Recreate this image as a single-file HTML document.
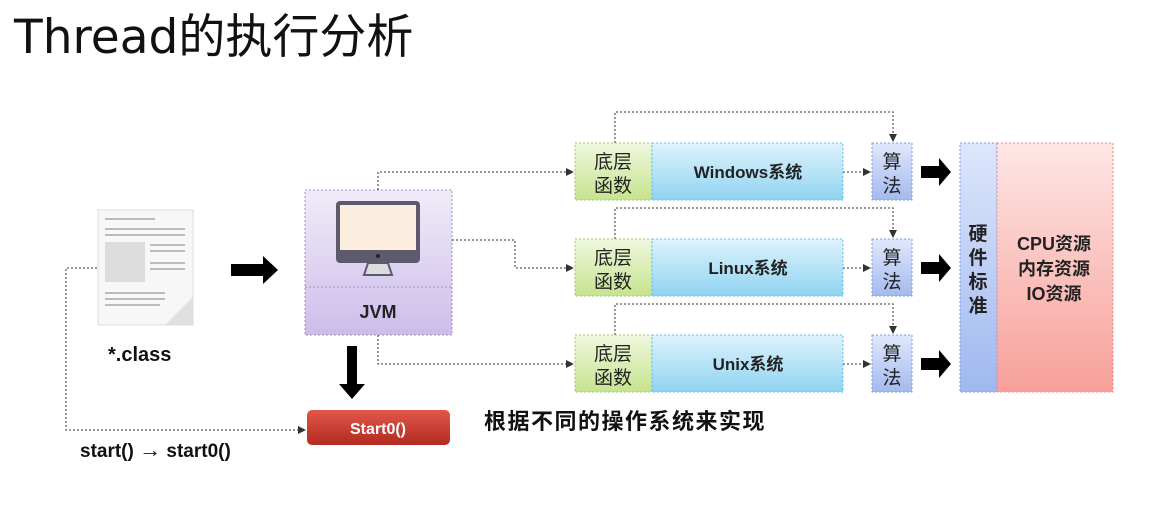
<!DOCTYPE html>
<html><head><meta charset="utf-8"><style>
body{margin:0;background:#fff;width:1175px;height:515px;overflow:hidden}
svg{display:block}
text{font-family:"Liberation Sans","Noto Sans CJK SC",sans-serif}
</style></head><body>
<svg width="1175" height="515" viewBox="0 0 1175 515" xmlns="http://www.w3.org/2000/svg">
<defs>
<linearGradient id="g" x1="0" y1="0" x2="0" y2="1"><stop offset="0" stop-color="#f0f8de"/><stop offset="1" stop-color="#c6e38f"/></linearGradient>
<linearGradient id="b" x1="0" y1="0" x2="0" y2="1"><stop offset="0" stop-color="#dff3fc"/><stop offset="1" stop-color="#8fd3f1"/></linearGradient>
<linearGradient id="a" x1="0" y1="0" x2="0" y2="1"><stop offset="0" stop-color="#e0e8fb"/><stop offset="1" stop-color="#a4baee"/></linearGradient>
<linearGradient id="r" x1="0" y1="0" x2="0" y2="1"><stop offset="0" stop-color="#fde6e4"/><stop offset="1" stop-color="#f8a099"/></linearGradient>
<linearGradient id="h" x1="0" y1="0" x2="0" y2="1"><stop offset="0" stop-color="#dde6fb"/><stop offset="1" stop-color="#9fb8ef"/></linearGradient>
<linearGradient id="p" x1="0" y1="0" x2="0" y2="1"><stop offset="0" stop-color="#f1ecf9"/><stop offset="1" stop-color="#cdbdea"/></linearGradient>
<linearGradient id="s" x1="0" y1="0" x2="0" y2="1"><stop offset="0" stop-color="#e2574a"/><stop offset="1" stop-color="#b32a20"/></linearGradient>
<marker id="m" markerWidth="8" markerHeight="8" refX="7" refY="4" orient="auto" markerUnits="userSpaceOnUse"><path d="M0,0 L8,4 L0,8 z" fill="#333"/></marker>
</defs>
<text x="14" y="53" font-size="47" fill="#111" style="font-family:'DejaVu Sans','Noto Sans CJK SC',sans-serif">Thread的执行分析</text>

<rect x="98" y="210" width="95" height="115" fill="#f7f7f7" stroke="#ddd"/>
<g fill="#bbb"><rect x="105" y="218" width="50" height="2"/><rect x="105" y="228" width="80" height="2"/><rect x="105" y="234" width="80" height="2"/>
<rect x="105" y="242" width="40" height="40" fill="#ddd"/><rect x="150" y="244" width="35" height="2"/><rect x="150" y="250" width="35" height="2"/><rect x="150" y="262" width="35" height="2"/><rect x="150" y="268" width="35" height="2"/>
<rect x="105" y="292" width="60" height="2"/><rect x="105" y="298" width="60" height="2"/><rect x="105" y="304" width="55" height="2"/></g>
<path d="M165,325 L193,297 L193,325 z" fill="#e0e0e0"/>
<text x="108" y="361" font-size="20" font-weight="bold" fill="#111">*.class</text>
<path d="M231,264 h32 v-8 l15,14 l-15,14 v-8 h-32 z" fill="#000"/>

<rect x="305" y="190" width="147" height="145" fill="url(#p)" stroke="#a08bc8" stroke-dasharray="2,2"/>
<line x1="305" y1="287" x2="452" y2="287" stroke="#a08bc8" stroke-dasharray="2,2"/>
<rect x="336" y="201" width="84" height="62" rx="4" fill="#5e5a6e"/>
<rect x="340" y="205" width="76" height="45" fill="#fbeede"/>
<circle cx="378" cy="256" r="2" fill="#222"/>
<path d="M368,263 L364,275 L392,275 L388,263 z" fill="#ddd" stroke="#5e5a6e" stroke-width="2"/>
<text x="378" y="318" font-size="18" font-weight="bold" text-anchor="middle" fill="#222">JVM</text>
<path d="M347,346 h10 v38 h8 l-13,15 l-13,-15 h8 z" fill="#000"/>
<rect x="307" y="410" width="143" height="35" rx="5" fill="url(#s)"/>
<text x="378" y="434" font-size="16" font-weight="bold" text-anchor="middle" fill="#fff">Start0()</text>
<text x="484" y="429" font-size="22" font-weight="bold" letter-spacing="1.5" fill="#111">根据不同的操作系统来实现</text>
<text x="80" y="457" font-size="19" font-weight="bold" fill="#111">start() <tspan font-size="22">→</tspan> start0()</text>

<g fill="none" stroke="#333" stroke-dasharray="2,2">
<path d="M97,268 H66 V430 H305" marker-end="url(#m)"/>
<path d="M378,190 V172 H573" marker-end="url(#m)"/>
<path d="M452,240 H515 V268 H573" marker-end="url(#m)"/>
<path d="M378,335 V364 H573" marker-end="url(#m)"/>
<path d="M615,143 V112 H893 V141" marker-end="url(#m)"/>
<path d="M615,239 V208 H893 V237" marker-end="url(#m)"/>
<path d="M615,335 V304 H893 V333" marker-end="url(#m)"/>
<path d="M843,172 H870" marker-end="url(#m)"/>
<path d="M843,268 H870" marker-end="url(#m)"/>
<path d="M843,364 H870" marker-end="url(#m)"/>
</g>

<g>
<rect x="575" y="143" width="77" height="57" fill="url(#g)" stroke="#9c6" stroke-dasharray="2,2"/>
<rect x="652" y="143" width="191" height="57" fill="url(#b)" stroke="#5bc0e8" stroke-dasharray="2,2"/>
<text x="613" y="168" font-size="19" text-anchor="middle" fill="#222">底层</text><text x="613" y="192" font-size="19" text-anchor="middle" fill="#222">函数</text>
<text x="748" y="178" font-size="17" font-weight="bold" text-anchor="middle" fill="#222">Windows系统</text>
<rect x="872" y="143" width="40" height="57" fill="url(#a)" stroke="#7a9be0" stroke-dasharray="2,2"/>
<text x="892" y="168" font-size="19" text-anchor="middle" fill="#222">算</text><text x="892" y="192" font-size="19" text-anchor="middle" fill="#222">法</text>
<path d="M921,166 h18 v-8 l12,14 l-12,14 v-8 h-18 z" fill="#000"/>
</g>
<g>
<rect x="575" y="239" width="77" height="57" fill="url(#g)" stroke="#9c6" stroke-dasharray="2,2"/>
<rect x="652" y="239" width="191" height="57" fill="url(#b)" stroke="#5bc0e8" stroke-dasharray="2,2"/>
<text x="613" y="264" font-size="19" text-anchor="middle" fill="#222">底层</text><text x="613" y="288" font-size="19" text-anchor="middle" fill="#222">函数</text>
<text x="748" y="274" font-size="17" font-weight="bold" text-anchor="middle" fill="#222">Linux系统</text>
<rect x="872" y="239" width="40" height="57" fill="url(#a)" stroke="#7a9be0" stroke-dasharray="2,2"/>
<text x="892" y="264" font-size="19" text-anchor="middle" fill="#222">算</text><text x="892" y="288" font-size="19" text-anchor="middle" fill="#222">法</text>
<path d="M921,262 h18 v-8 l12,14 l-12,14 v-8 h-18 z" fill="#000"/>
</g>
<g>
<rect x="575" y="335" width="77" height="57" fill="url(#g)" stroke="#9c6" stroke-dasharray="2,2"/>
<rect x="652" y="335" width="191" height="57" fill="url(#b)" stroke="#5bc0e8" stroke-dasharray="2,2"/>
<text x="613" y="360" font-size="19" text-anchor="middle" fill="#222">底层</text><text x="613" y="384" font-size="19" text-anchor="middle" fill="#222">函数</text>
<text x="748" y="370" font-size="17" font-weight="bold" text-anchor="middle" fill="#222">Unix系统</text>
<rect x="872" y="335" width="40" height="57" fill="url(#a)" stroke="#7a9be0" stroke-dasharray="2,2"/>
<text x="892" y="360" font-size="19" text-anchor="middle" fill="#222">算</text><text x="892" y="384" font-size="19" text-anchor="middle" fill="#222">法</text>
<path d="M921,358 h18 v-8 l12,14 l-12,14 v-8 h-18 z" fill="#000"/>
</g>

<rect x="960" y="143" width="37" height="249" fill="url(#h)" stroke="#7a9be0" stroke-dasharray="2,2"/>
<rect x="997" y="143" width="116" height="249" fill="url(#r)" stroke="#e88" stroke-dasharray="2,2"/>
<g font-size="19" text-anchor="middle" fill="#222" font-weight="bold">
<text x="978" y="240">硬</text><text x="978" y="264">件</text><text x="978" y="288">标</text><text x="978" y="312">准</text>
<text x="1054" y="250" font-size="18">CPU资源</text><text x="1054" y="275" font-size="18">内存资源</text><text x="1054" y="300" font-size="18">IO资源</text>
</g>
</svg>
</body></html>
